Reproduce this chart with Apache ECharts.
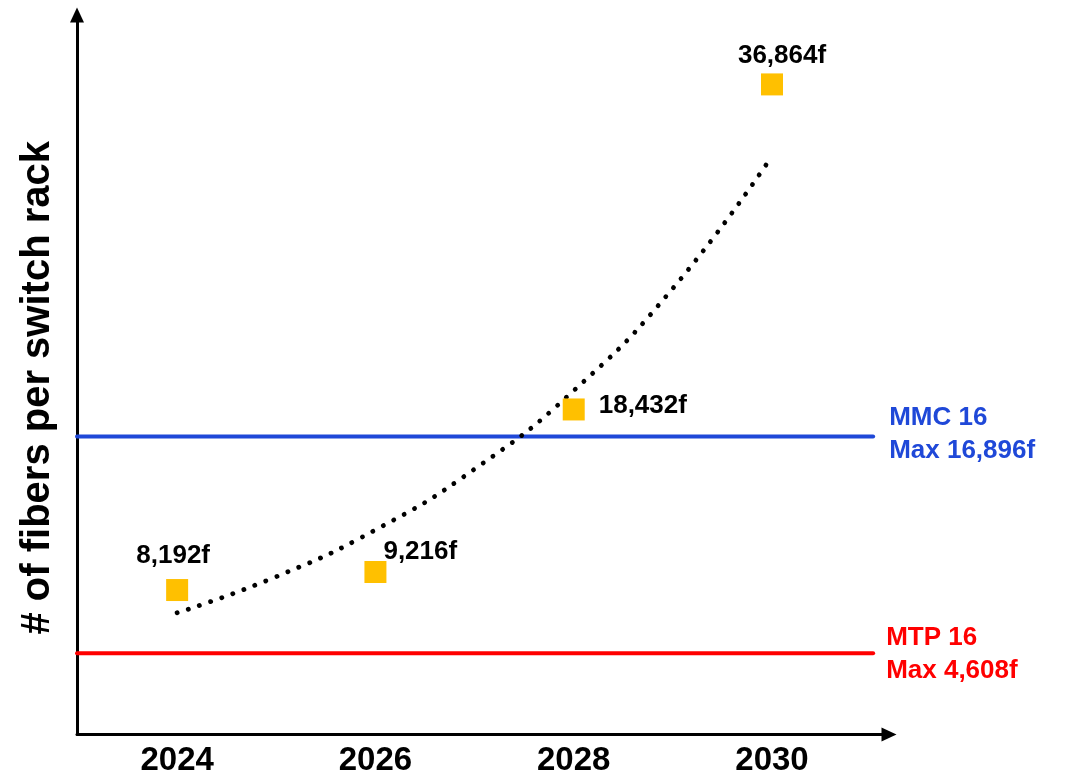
<!DOCTYPE html>
<html>
<head>
<meta charset="utf-8">
<script src="https://cdn.jsdelivr.net/npm/echarts@6/dist/echarts.min.js"></script>
<style>
html,body{margin:0;padding:0;background:#fff;}
#chart{width:1066px;height:779px;}
</style>
</head>
<body>
<div id="chart"></div>
<script>
// ---- data ----
const years = [2024, 2026, 2028, 2030];
const fibers = [8192, 9216, 18432, 36864];
const pointLabels = ['8,192f', '9,216f', '18,432f', '36,864f'];
const trendYears = [2024, 2025, 2026, 2027, 2028, 2029, 2030];
const trendValues = [6900, 8950, 11600, 15050, 19500, 25300, 32800];
const xTickLabels = [2024, 2026, 2028, 2030];
const mmcMax = 16896;
const mtpMax = 4608;
const mmcLabel = 'MMC 16\nMax 16,896f';
const mtpLabel = 'MTP 16\nMax 4,608f';
const yTitle = '# of fibers per switch rack';

const FONT = "'Liberation Sans', Arial, sans-serif";
const X_MIN = 2022.99, X_MAX = 2031.18, LINE_END = 2031.02;
const BLUE = '#1F48D8', RED = '#FF0000', GOLD = '#FFC000';

const labelCfg = [
  {position: 'top', distance: 10, offset: [-4, 0]},
  {position: 'right', distance: -3, offset: [0, -20]},
  {position: 'right', distance: 14, offset: [0, -4]},
  {position: 'top', distance: 5, offset: [10, 0]}
];

const scatterData = years.map((y, i) => ({
  value: [y, fibers[i]],
  label: Object.assign({
    show: true,
    formatter: pointLabels[i],
    color: '#000',
    opacity: 1,
    fontSize: 26,
    fontWeight: 'bold',
    fontFamily: FONT
  }, labelCfg[i])
}));

const chart = echarts.init(document.getElementById('chart'), null, {renderer: 'canvas'});
chart.setOption({
  animation: false,
  backgroundColor: '#fff',
  grid: {left: 77, right: 177, top: 15, bottom: 44.5, outerBoundsMode: 'none', containLabel: false},
  xAxis: {
    type: 'value',
    min: X_MIN,
    max: X_MAX,
    splitLine: {show: false},
    axisTick: {show: false},
    axisLine: {show: true, symbol: ['none', 'triangle'], symbolSize: [14, 15],
      lineStyle: {color: '#000', width: 3}},
    axisLabel: {
      customValues: xTickLabels,
      formatter: v => String(Math.round(v)),
      color: '#000', fontSize: 33, fontWeight: 'bold', fontFamily: FONT, margin: 10
    }
  },
  yAxis: {
    type: 'value',
    min: 0,
    max: 40800,
    splitLine: {show: false},
    axisTick: {show: false},
    axisLabel: {show: false},
    axisLine: {show: true, symbol: ['none', 'triangle'], symbolSize: [14, 15],
      lineStyle: {color: '#000', width: 3}},
    name: yTitle,
    nameLocation: 'middle',
    nameGap: 19,
    nameTextStyle: {color: '#000', fontSize: 40, fontWeight: 'bold', fontFamily: FONT, padding: [0, 26, 0, 0]}
  },
  series: [
    {
      type: 'line',
      name: 'trend',
      data: trendYears.map((y, i) => [y, trendValues[i]]),
      smooth: true,
      showSymbol: false,
      silent: true,
      z: 2,
      lineStyle: {color: '#000', width: 4.8, type: [0.1, 11.7], cap: 'round'}
    },
    {
      type: 'line',
      name: 'MMC 16',
      data: [[X_MIN, mmcMax], [LINE_END, mmcMax]],
      showSymbol: false,
      silent: true,
      z: 1,
      lineStyle: {color: BLUE, width: 4, cap: 'round'},
      endLabel: {show: true, formatter: mmcLabel, color: BLUE, fontSize: 26, fontWeight: 'bold',
        fontFamily: FONT, lineHeight: 33.5, distance: 16, offset: [0, -2]}
    },
    {
      type: 'line',
      name: 'MTP 16',
      data: [[X_MIN, mtpMax], [LINE_END, mtpMax]],
      showSymbol: false,
      silent: true,
      z: 1,
      lineStyle: {color: RED, width: 4, cap: 'round'},
      endLabel: {show: true, formatter: mtpLabel, color: RED, fontSize: 26, fontWeight: 'bold',
        fontFamily: FONT, lineHeight: 33.5, distance: 13, offset: [0, 1]}
    },
    {
      type: 'scatter',
      name: 'fibers',
      symbol: 'rect',
      symbolSize: 22,
      itemStyle: {color: GOLD, opacity: 1},
      label: {color: '#000', opacity: 1},
      z: 3,
      data: scatterData
    }
  ]
});
</script>
</body>
</html>
